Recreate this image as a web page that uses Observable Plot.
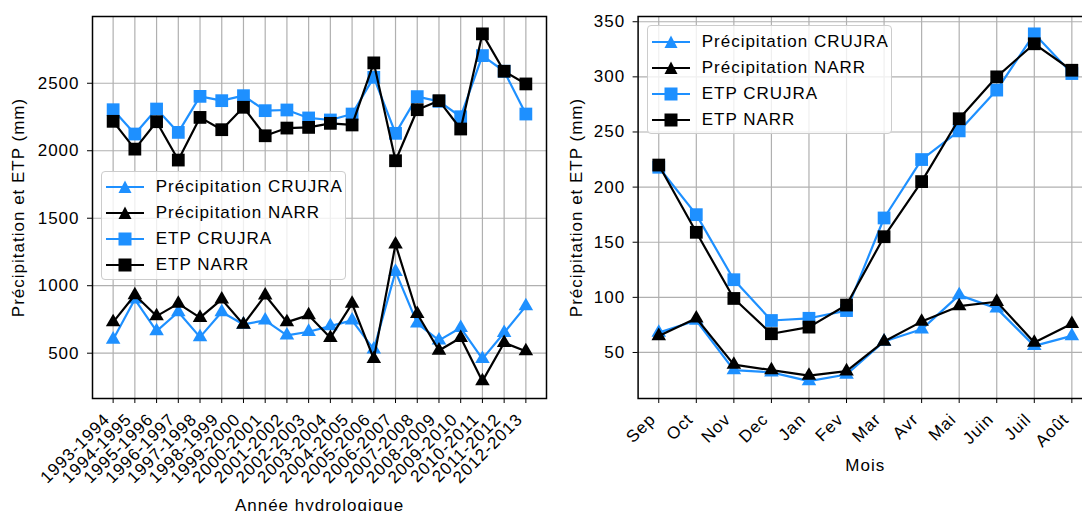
<!DOCTYPE html>
<html><head><meta charset="utf-8">
<script src="https://cdn.jsdelivr.net/npm/d3@7"></script>
<script src="https://cdn.jsdelivr.net/npm/@observablehq/plot@0.6"></script>
<style>
html,body{margin:0;padding:0;background:#fff;overflow:hidden;}
#wrap{position:relative;width:1082px;height:511px;overflow:hidden;font-family:"Liberation Sans",Arial,sans-serif;}
.legend{position:absolute;background:rgba(255,255,255,0.8);border:1px solid #cccccc;border-radius:4px;box-sizing:border-box;font-size:17px;letter-spacing:1px;color:#000;}
.legend .row{position:absolute;left:0;height:26px;display:flex;align-items:center;white-space:nowrap;}
.legend .row svg{display:block;margin-left:4px;margin-right:12px;}
</style></head><body><div id="wrap"></div>
<script>
// ---------- data ----------
const years = ["1993-1994","1994-1995","1995-1996","1996-1997","1997-1998","1998-1999","1999-2000","2000-2001","2001-2002","2002-2003","2003-2004","2004-2005","2005-2006","2006-2007","2007-2008","2008-2009","2009-2010","2010-2011","2011-2012","2012-2013"];
const precipCrujraAnnual = [602, 899, 664, 805, 619, 805, 713, 743, 632, 659, 701, 743, 528, 1104, 721, 595, 688, 458, 651, 849];
const precipNarrAnnual   = [730, 931, 775, 867, 763, 899, 713, 929, 730, 782, 614, 867, 458, 1307, 792, 520, 614, 293, 577, 515];
const etpCrujraAnnual    = [2304, 2124, 2309, 2136, 2403, 2371, 2408, 2297, 2302, 2243, 2228, 2272, 2544, 2129, 2401, 2366, 2252, 2705, 2589, 2272];
const etpNarrAnnual      = [2218, 2012, 2215, 1931, 2247, 2156, 2322, 2111, 2168, 2173, 2203, 2191, 2651, 1926, 2304, 2371, 2161, 2866, 2589, 2495];
const annualTicks = [500, 1000, 1500, 2000, 2500];

const months = ["Sep","Oct","Nov","Dec","Jan","Fev","Mar","Avr","Mai","Juin","Juil","Août"];
const precipCrujraMonthly = [68, 79, 34, 32, 24, 30, 60, 71, 102, 90, 56, 65];
const precipNarrMonthly   = [65, 81, 39, 34, 29, 33, 60, 78, 92, 96, 59, 76];
const etpCrujraMonthly    = [218, 175, 116, 79, 81, 88, 172, 225, 251, 288, 339, 303];
const etpNarrMonthly      = [220, 159, 99, 67, 73, 93, 155, 205, 262, 300, 330, 306];
const monthlyTicks = [50, 100, 150, 200, 250, 300, 350];

const seriesNames = ["Précipitation CRUJRA", "Précipitation NARR", "ETP CRUJRA", "ETP NARR"];
const seriesColors = ["#1e90ff", "#000000", "#1e90ff", "#000000"];
const seriesSymbols = ["triangle", "triangle", "square", "square"];

const yLabel = "Précipitation et ETP (mm)";
const FONT = "'Liberation Sans', Arial, sans-serif";

function panel({labels, values, yTicks, width, marginLeft, marginRight, xLabel, xLabelDy, yLabelDx}) {
  const n = labels.length;
  const idx = d3.range(n);
  const all = values.flat();
  const lo = d3.min(all), hi = d3.max(all), r = hi - lo;
  const marks = [
    Plot.gridX(idx, {stroke: "#b0b0b0", strokeOpacity: 1, strokeWidth: 1.2}),
    Plot.gridY(yTicks, {stroke: "#b0b0b0", strokeOpacity: 1, strokeWidth: 1.2}),
    Plot.axisX(idx, {tickFormat: () => "", tickSize: 5, label: null}),
    Plot.axisX(idx, {tickFormat: i => labels[i], tickRotate: -45, tickSize: 0, tickPadding: 18, dx: -6, label: null}),
    Plot.axisY(yTicks, {tickFormat: d => String(d), tickSize: 5, tickPadding: 8, label: null}),
  ];
  values.forEach((vals, k) => {
    marks.push(Plot.line(idx, {x: i => i, y: i => vals[i], stroke: seriesColors[k], strokeWidth: 2.2}));
    marks.push(Plot.dot(idx, {x: i => i, y: i => vals[i], symbol: seriesSymbols[k], fill: seriesColors[k], stroke: "none",
      r: seriesSymbols[k] === "square" ? 7.2 : 5.4}));
  });
  marks.push(Plot.frame({stroke: "black", strokeWidth: 1.5}));
  marks.push(Plot.text([yLabel], {frameAnchor: "left", textAnchor: "middle", dx: yLabelDx, rotate: -90, fontSize: 17}));
  marks.push(Plot.text([xLabel], {frameAnchor: "bottom", textAnchor: "middle", dy: xLabelDy, fontSize: 17}));
  return Plot.plot({
    width, height: 511,
    marginLeft, marginRight, marginTop: 16, marginBottom: 113,
    x: {type: "linear", domain: [-0.05 * (n - 1), 1.05 * (n - 1)], axis: null},
    y: {type: "linear", domain: [lo - 0.05 * r, hi + 0.05 * r], axis: null},
    style: {fontFamily: FONT, fontSize: "17px", letterSpacing: "1px", maxWidth: "none", overflow: "visible", background: "transparent", color: "black"},
    marks
  });
}

function legend(left, top) {
  const box = document.createElement("div");
  box.className = "legend";
  Object.assign(box.style, {left: left + "px", top: top + "px", width: "245px", height: "109px"});
  seriesNames.forEach((name, k) => {
    const row = document.createElement("div");
    row.className = "row";
    row.style.top = (2.5 + 26 * k) + "px";
    const s = d3.create("svg").attr("width", 38).attr("height", 20);
    s.append("line").attr("x1", 0).attr("x2", 38).attr("y1", 10).attr("y2", 10)
      .attr("stroke", seriesColors[k]).attr("stroke-width", 2.2);
    if (seriesSymbols[k] === "square") {
      s.append("rect").attr("x", 12.5).attr("y", 3.5).attr("width", 13).attr("height", 13).attr("fill", seriesColors[k]);
    } else {
      s.append("path").attr("d", "M19,3.5L25.5,16L12.5,16Z").attr("fill", seriesColors[k]);
    }
    row.appendChild(s.node());
    const t = document.createElement("span");
    t.textContent = name;
    row.appendChild(t);
    box.appendChild(row);
  });
  return box;
}

const wrap = document.getElementById("wrap");

const left = panel({
  labels: years,
  values: [precipCrujraAnnual, precipNarrAnnual, etpCrujraAnnual, etpNarrAnnual],
  yTicks: annualTicks, width: 560, marginLeft: 92, marginRight: 14,
  xLabel: "Année hydrologique", xLabelDy: 112, yLabelDx: -74
});
left.style.position = "absolute"; left.style.left = "0px"; left.style.top = "0px";
wrap.appendChild(left);

const right = panel({
  labels: months,
  values: [precipCrujraMonthly, precipNarrMonthly, etpCrujraMonthly, etpNarrMonthly],
  yTicks: monthlyTicks, width: 542, marginLeft: 77.6, marginRight: 10,
  xLabel: "Mois", xLabelDy: 72, yLabelDx: -62
});
right.style.position = "absolute"; right.style.left = "560px"; right.style.top = "0px";
wrap.appendChild(right);

wrap.appendChild(legend(100.7, 170.7));
wrap.appendChild(legend(646.7, 25));
</script>
</body></html>
